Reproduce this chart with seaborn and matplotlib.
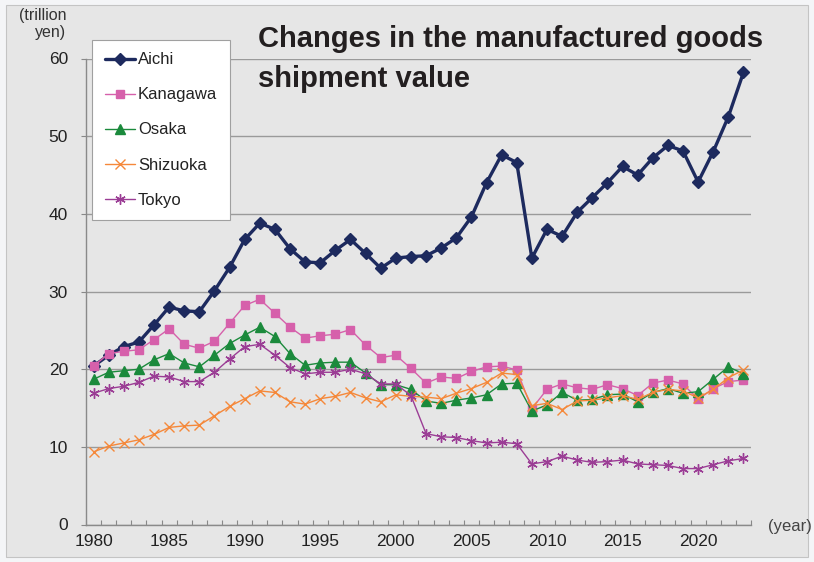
import matplotlib
matplotlib.use("Agg")
import matplotlib.pyplot as plt
import seaborn as sns
import pandas as pd
from matplotlib.patches import Rectangle
from matplotlib.ticker import FixedLocator

years = list(range(1980, 2024))
aichi = [20.4, 21.8, 22.9, 23.5, 25.7, 28.0, 27.5, 27.4, 30.1, 33.1,
         36.7, 38.8, 38.0, 35.5, 33.8, 33.7, 35.3, 36.7, 34.9, 33.0,
         34.3, 34.5, 34.6, 35.6, 36.9, 39.6, 44.0, 47.6, 46.6, 34.3,
         38.0, 37.1, 40.2, 42.1, 44.0, 46.1, 45.0, 47.2, 48.8, 48.1,
         44.1, 48.0, 52.5, 58.2]
kanagawa = [20.4, 22.0, 22.3, 22.5, 23.8, 25.2, 23.2, 22.7, 23.6, 25.9,
            28.2, 29.0, 27.2, 25.4, 24.0, 24.3, 24.5, 25.1, 23.1, 21.5,
            21.8, 20.1, 18.2, 19.0, 18.8, 19.7, 20.3, 20.4, 19.9, 14.9,
            17.4, 18.1, 17.6, 17.4, 18.0, 17.5, 16.6, 18.2, 18.6, 18.1,
            16.1, 17.5, 18.4, 18.6]
osaka = [18.7, 19.6, 19.8, 20.0, 21.2, 22.0, 20.8, 20.3, 21.8, 23.3,
         24.4, 25.4, 24.2, 22.0, 20.5, 20.8, 20.9, 20.9, 19.5, 18.0,
         18.0, 17.4, 15.9, 15.6, 16.0, 16.3, 16.7, 18.1, 18.2, 14.6,
         15.4, 17.0, 16.0, 16.1, 16.7, 16.8, 15.8, 17.0, 17.5, 16.9,
         17.1, 18.7, 20.3, 19.4]
shizuoka = [9.35, 10.1, 10.5, 10.9, 11.6, 12.5, 12.7, 12.8, 14.0, 15.2,
            16.2, 17.2, 17.0, 15.8, 15.5, 16.2, 16.5, 17.0, 16.3, 15.8,
            16.7, 16.5, 16.4, 16.2, 16.9, 17.5, 18.3, 19.5, 19.3, 15.3,
            15.6, 14.8, 15.9, 16.0, 16.3, 16.6, 16.1, 17.0, 17.4, 17.2,
            16.3, 17.4, 18.9, 19.9]
tokyo = [16.9, 17.5, 17.8, 18.3, 19.1, 19.0, 18.4, 18.4, 19.6, 21.3,
         22.9, 23.2, 21.8, 20.2, 19.4, 19.6, 19.6, 20.0, 19.4, 18.1,
         18.1, 16.6, 11.7, 11.3, 11.2, 10.8, 10.5, 10.6, 10.4, 7.8,
         8.1, 8.8, 8.3, 8.0, 8.1, 8.3, 7.8, 7.7, 7.6, 7.2,
         7.2, 7.7, 8.2, 8.5]
prefectures = ["Aichi", "Kanagawa", "Osaka", "Shizuoka", "Tokyo"]
series = [aichi, kanagawa, osaka, shizuoka, tokyo]
x_labels = [1980, 1985, 1990, 1995, 2000, 2005, 2010, 2015, 2020]
y_ticks = [0, 10, 20, 30, 40, 50, 60]

colors = {"Aichi": "#1d2a5e", "Kanagawa": "#d660ab", "Osaka": "#1b8a3c",
          "Shizuoka": "#f5883a", "Tokyo": "#9b3d95"}
markers = {"Aichi": "D", "Kanagawa": "s", "Osaka": "^", "Shizuoka": "x",
           "Tokyo": (6, 2, 0)}
lws = {"Aichi": 2.4, "Kanagawa": 1.0, "Osaka": 1.0, "Shizuoka": 1.0, "Tokyo": 1.0}
mss = {"Aichi": 6.5, "Kanagawa": 6.0, "Osaka": 6.5, "Shizuoka": 7.0, "Tokyo": 7.5}

sns.set_theme(style="white")
plt.rcParams['font.family'] = ['Liberation Sans', 'DejaVu Sans']
narrow = ['Liberation Sans Narrow', 'Liberation Sans', 'DejaVu Sans']
regular = ['Liberation Sans', 'DejaVu Sans']

W, H = 814, 562
fig = plt.figure(figsize=(W / 100, H / 100), dpi=100, facecolor='#f4f5f7')
fig.patches.append(Rectangle((6 / W, 5 / H), (808 - 6) / W, (557 - 5) / H,
                             transform=fig.transFigure, facecolor='#e6e6e6',
                             edgecolor='#c4c4c4', lw=0.8, zorder=-10))
ax = fig.add_axes([86 / W, 1 - 524.5 / H, (751 - 86) / W, (524.5 - 58.5) / H])
ax.set_facecolor('none')

for name, vals in zip(prefectures, series):
    sns.lineplot(x=years, y=vals, ax=ax, color=colors[name], marker=markers[name],
                 lw=lws[name], markersize=mss[name], markeredgecolor=colors[name],
                 markeredgewidth=1.0, label=name, zorder=3)

ax.set_xlim(1979.5, 2023.5)
ax.set_ylim(0, 60)
ax.set_xlabel("")
ax.set_ylabel("")
ax.xaxis.set_major_locator(FixedLocator(x_labels))
ax.xaxis.set_minor_locator(FixedLocator([y + 0.5 for y in range(1979, 2024)]))
ax.set_xticklabels([str(v) for v in x_labels], family=regular, fontsize=12.5, color='#222222')
ax.set_yticks(y_ticks)
ax.set_yticklabels([str(v) for v in y_ticks], family=regular, fontsize=12.5, color='#222222')
ax.tick_params(axis='x', which='major', length=0, pad=7)
ax.tick_params(axis='x', which='minor', length=3.5, width=0.8, color='#888888', direction='in', bottom=True)
ax.tick_params(axis='y', which='major', length=3.5, width=0.8, color='#888888', direction='out', pad=9.5, left=True)
ax.grid(axis='y', color='#9a9a9a', lw=1.0)
ax.grid(axis='x', visible=False)
for s in ['top', 'right']:
    ax.spines[s].set_visible(False)
for s in ['left', 'bottom']:
    ax.spines[s].set_color('#8a8a8a')
    ax.spines[s].set_linewidth(1.0)

leg = ax.legend(loc='upper left', bbox_to_anchor=(92 / W, 1 - 40 / H),
                bbox_transform=fig.transFigure, borderaxespad=0, frameon=True,
                fancybox=False, edgecolor='#a0a0a0', facecolor='white', framealpha=1,
                labelspacing=1.2, handlelength=1.8, handletextpad=0.2,
                borderpad=0.75, prop={'family': regular, 'size': 12})
leg.get_frame().set_linewidth(0.8)
leg.set_zorder(5)
for t in leg.get_texts():
    t.set_color('#222222')

fig.text(258 / W, 1 - 47 / H, "Changes in the manufactured goods", fontsize=21,
         fontweight='bold', color='#231f20', ha='left', va='baseline')
fig.text(258 / W, 1 - 87 / H, "shipment value", fontsize=21,
         fontweight='bold', color='#231f20', ha='left', va='baseline')
fig.text(66 / W, 1 - 24 / H, "(trillion\nyen)", fontsize=11.5, family=narrow,
         color='#333333', ha='right', va='center', linespacing=1.1, multialignment='right')
fig.text(768 / W, 1 - 526 / H, "(year)", fontsize=12, family=narrow,
         color='#444444', ha='left', va='center')

fig.savefig("out.png", dpi=100, facecolor=fig.get_facecolor())
